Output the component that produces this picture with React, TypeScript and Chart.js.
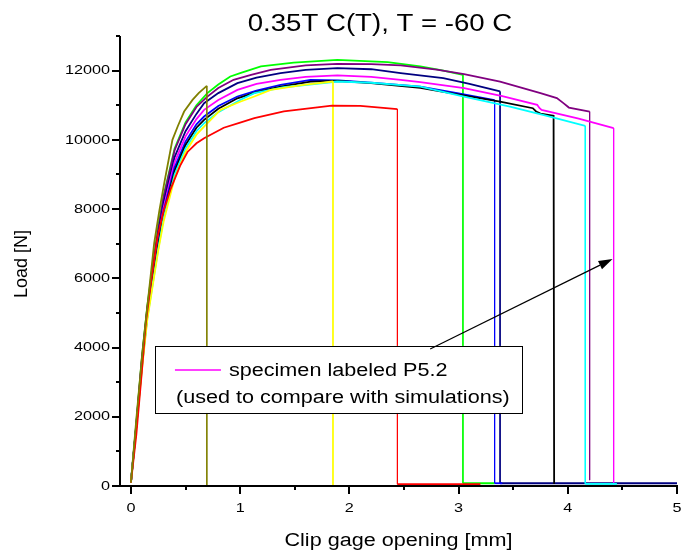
import React, { useEffect, useRef } from 'react';
import { Chart, registerables } from 'chart.js';

Chart.register(...registerables);

const FONT = '"Liberation Sans", Arial, Helvetica, sans-serif';

const TITLE = '0.35T C(T), T = -60 C';
const X_TITLE = 'Clip gage opening [mm]';
const Y_TITLE = 'Load [N]';
const NOTE_LINE1 = 'specimen labeled P5.2';
const NOTE_LINE2 = '(used to compare with simulations)';

const X_MIN = -0.1;
const X_MAX = 5;
const Y_MIN = 0;
const Y_MAX = 13000;
const X_MAJOR = [0, 1, 2, 3, 4, 5];
const X_MINOR = [0.5, 1.5, 2.5, 3.5, 4.5];
const Y_MAJOR = [0, 2000, 4000, 6000, 8000, 10000, 12000];
const Y_MINOR = [1000, 3000, 5000, 7000, 9000, 11000, 13000];

// ---- specimen curves (clip gage opening [mm], load [N]) ----
const oliveX = [0, 0.05, 0.107, 0.213, 0.26, 0.305, 0.38, 0.43, 0.487, 0.564, 0.62, 0.695, 0.695, 5.0];
const oliveY = [100, 1950, 3930, 7014, 7950, 8748, 10000, 10400, 10817, 11155, 11350, 11560, 0, 0];

const redX = [0, 0.05, 0.1, 0.137, 0.183, 0.244, 0.3, 0.366, 0.45, 0.518, 0.6, 0.67, 0.85, 1.0, 1.13, 1.4, 1.84, 2.1, 2.44, 2.44, 3.2];
const redY = [100, 1500, 3300, 4702, 5858, 7200, 7950, 8600, 9250, 9650, 9900, 10048, 10350, 10500, 10626, 10820, 10991, 10980, 10886, 50, 50];

const yellowX = [0, 0.05, 0.1, 0.15, 0.2, 0.25, 0.3, 0.4, 0.5, 0.6, 0.67, 0.82, 1.0, 1.13, 1.28, 1.58, 1.85, 1.85];
const yellowY = [100, 1720, 3350, 4800, 5800, 6800, 7650, 8900, 9650, 10150, 10384, 10866, 11100, 11252, 11444, 11589, 11685, 0];

const cyanX = [0, 0.05, 0.1, 0.15, 0.2, 0.25, 0.3, 0.4, 0.5, 0.6, 0.67, 0.8, 1.0, 1.13, 1.4, 1.89, 2.2, 2.65, 3.05, 3.47, 3.8, 4.16, 4.16, 4.45];
const cyanY = [100, 1730, 3400, 4850, 5850, 6850, 7750, 9000, 9750, 10250, 10480, 10800, 11150, 11349, 11520, 11685, 11650, 11540, 11252, 10962, 10700, 10404, 60, 60];

const blackX = [0, 0.05, 0.1, 0.15, 0.2, 0.25, 0.3, 0.4, 0.5, 0.6, 0.67, 0.8, 0.975, 1.15, 1.37, 1.645, 1.9, 2.2, 2.65, 3.02, 3.38, 3.68, 3.71, 3.75, 3.87, 3.875];
const blackY = [100, 1740, 3450, 4900, 5950, 6950, 7850, 9100, 9850, 10350, 10577, 10900, 11200, 11380, 11540, 11680, 11700, 11640, 11500, 11300, 11106, 10914, 10820, 10760, 10693, 60];

const blueX = [0, 0.05, 0.1, 0.15, 0.2, 0.25, 0.3, 0.4, 0.5, 0.6, 0.67, 0.8, 0.975, 1.15, 1.37, 1.645, 1.9, 2.2, 2.65, 3.0, 3.33, 3.33, 3.4];
const blueY = [100, 1750, 3500, 4950, 6000, 7000, 7950, 9200, 9950, 10450, 10673, 10980, 11252, 11420, 11589, 11734, 11720, 11650, 11540, 11340, 11150, 80, 80];

const magentaX = [0, 0.05, 0.1, 0.15, 0.2, 0.25, 0.3, 0.4, 0.5, 0.6, 0.67, 0.8, 0.975, 1.15, 1.37, 1.6, 1.89, 2.2, 2.47, 2.65, 3.05, 3.4, 3.72, 3.74, 3.76, 4.1, 4.42, 4.42];
const magentaY = [100, 1760, 3550, 5000, 6100, 7150, 8050, 9350, 10100, 10600, 10866, 11150, 11444, 11620, 11734, 11820, 11860, 11820, 11734, 11667, 11494, 11260, 11011, 10920, 10866, 10610, 10338, 60];

const navyX = [0, 0.05, 0.1, 0.15, 0.2, 0.25, 0.3, 0.4, 0.5, 0.6, 0.67, 0.8, 0.975, 1.15, 1.37, 1.6, 1.89, 2.2, 2.47, 2.86, 3.1, 3.38, 3.38, 5.0];
const navyY = [100, 1780, 3600, 5100, 6200, 7300, 8200, 9500, 10250, 10750, 11060, 11350, 11638, 11800, 11927, 12020, 12071, 12040, 11927, 11783, 11620, 11397, 80, 80];

const purpleX = [0, 0.05, 0.1, 0.15, 0.2, 0.25, 0.3, 0.4, 0.5, 0.6, 0.7, 0.8, 0.94, 1.1, 1.28, 1.6, 1.89, 2.2, 2.47, 2.8, 3.05, 3.38, 3.75, 3.9, 3.96, 4.01, 4.2, 4.2];
const purpleY = [100, 1800, 3650, 5150, 6300, 7400, 8350, 9700, 10450, 10950, 11250, 11500, 11734, 11880, 12022, 12150, 12196, 12190, 12150, 12030, 11898, 11684, 11349, 11205, 11060, 10933, 10817, 170];

const greenX = [0, 0.05, 0.1, 0.15, 0.2, 0.25, 0.3, 0.4, 0.5, 0.6, 0.7, 0.8, 0.91, 1.0, 1.19, 1.49, 1.89, 2.35, 2.65, 2.85, 3.04, 3.04, 3.33];
const greenY = [100, 1850, 3700, 5200, 6400, 7500, 8400, 9750, 10500, 11000, 11350, 11600, 11830, 11930, 12120, 12230, 12310, 12245, 12120, 12010, 11880, 80, 80];

// annotation anchor values (data units)
const NOTE_BOX_X = [0.22, 3.58];
const NOTE_BOX_Y = [2110, 4046];
const ARROW_FROM = [2.74, 3960];
const ARROW_TO = [4.41, 6560];

const zip = (xs: number[], ys: number[]) => xs.map((x, i) => ({ x, y: ys[i] }));

const SERIES: [string, number[], number[], string][] = [
  ['olive', oliveX, oliveY, '#808000'],
  ['red', redX, redY, '#ff0000'],
  ['yellow', yellowX, yellowY, '#ffff00'],
  ['cyan', cyanX, cyanY, '#00ffff'],
  ['black', blackX, blackY, '#000000'],
  ['blue', blueX, blueY, '#0000ff'],
  ['P5.2', magentaX, magentaY, '#ff00ff'],
  ['navy', navyX, navyY, '#000080'],
  ['purple', purpleX, purpleY, '#800080'],
  ['green', greenX, greenY, '#00ff00'],
];

// the reference glyphs are drawn ~1.2x wider than plain Arial
const STRETCH = 1.2;

function text(ctx: CanvasRenderingContext2D, s: string, x: number, y: number, size: number, align: CanvasTextAlign, rotate = false) {
  ctx.save();
  ctx.translate(x, y);
  if (rotate) ctx.rotate(-Math.PI / 2);
  if (!rotate) ctx.scale(STRETCH, 1);
  ctx.font = `${size}px ${FONT}`;
  ctx.textAlign = align;
  ctx.textBaseline = 'middle';
  ctx.fillStyle = '#000';
  ctx.fillText(s, 0, 0);
  ctx.restore();
}

const decorPlugin = {
  id: 'decor',
  afterDatasetsDraw(chart: any) {
    const { ctx, chartArea } = chart;
    const xs = chart.scales.x;
    const ys = chart.scales.y;
    ctx.save();

    // axes
    ctx.strokeStyle = '#000';
    ctx.lineWidth = 2;
    ctx.beginPath();
    ctx.moveTo(chartArea.left, chartArea.top);
    ctx.lineTo(chartArea.left, chartArea.bottom);
    ctx.lineTo(chartArea.right + 1, chartArea.bottom);
    ctx.stroke();

    const tick = (px: number, py: number, dx: number, dy: number) => {
      ctx.beginPath();
      ctx.moveTo(px, py);
      ctx.lineTo(px + dx, py + dy);
      ctx.stroke();
    };
    X_MAJOR.forEach((v) => tick(Math.round(xs.getPixelForValue(v)), chartArea.bottom, 0, 8));
    X_MINOR.forEach((v) => tick(Math.round(xs.getPixelForValue(v)), chartArea.bottom, 0, 4));
    Y_MAJOR.forEach((v) => tick(chartArea.left, Math.round(ys.getPixelForValue(v)), -8, 0));
    Y_MINOR.forEach((v) => tick(chartArea.left, Math.round(ys.getPixelForValue(v)), -4, 0));

    // tick labels
    X_MAJOR.forEach((v) => text(ctx, String(v), xs.getPixelForValue(v), chartArea.bottom + 22, 13.5, 'center'));
    Y_MAJOR.forEach((v) => text(ctx, String(v), chartArea.left - 10, ys.getPixelForValue(v), 13.5, 'right'));

    // axis titles
    text(ctx, X_TITLE, (chartArea.left + chartArea.right) / 2, chartArea.bottom + 55, 18, 'center');
    text(ctx, Y_TITLE, 22, (chartArea.top + chartArea.bottom) / 2 + 3, 18, 'center', true);

    // note box
    const bx0 = xs.getPixelForValue(NOTE_BOX_X[0]);
    const bx1 = xs.getPixelForValue(NOTE_BOX_X[1]);
    const by0 = ys.getPixelForValue(NOTE_BOX_Y[1]);
    const by1 = ys.getPixelForValue(NOTE_BOX_Y[0]);
    ctx.fillStyle = '#fff';
    ctx.fillRect(bx0, by0, bx1 - bx0, by1 - by0);
    ctx.strokeStyle = '#000';
    ctx.lineWidth = 1;
    ctx.strokeRect(Math.round(bx0) + 0.5, Math.round(by0) + 0.5, Math.round(bx1 - bx0), Math.round(by1 - by0));

    ctx.strokeStyle = '#ff00ff';
    ctx.lineWidth = 1.5;
    ctx.beginPath();
    ctx.moveTo(bx0 + 20, by0 + 24);
    ctx.lineTo(bx0 + 66, by0 + 24);
    ctx.stroke();

    text(ctx, NOTE_LINE1, bx0 + 74, by0 + 25, 18, 'left');
    text(ctx, NOTE_LINE2, bx0 + 21, by0 + 52, 18, 'left');

    // arrow
    const ax0 = xs.getPixelForValue(ARROW_FROM[0]);
    const ay0 = ys.getPixelForValue(ARROW_FROM[1]);
    const ax1 = xs.getPixelForValue(ARROW_TO[0]);
    const ay1 = ys.getPixelForValue(ARROW_TO[1]);
    const ang = Math.atan2(ay1 - ay0, ax1 - ax0);
    const hl = 14;
    const hw = 4.5;
    ctx.strokeStyle = '#000';
    ctx.lineWidth = 1.2;
    ctx.beginPath();
    ctx.moveTo(ax0, ay0);
    ctx.lineTo(ax1 - hl * Math.cos(ang), ay1 - hl * Math.sin(ang));
    ctx.stroke();
    ctx.fillStyle = '#000';
    ctx.beginPath();
    ctx.moveTo(ax1, ay1);
    ctx.lineTo(ax1 - hl * Math.cos(ang) + hw * Math.sin(ang), ay1 - hl * Math.sin(ang) - hw * Math.cos(ang));
    ctx.lineTo(ax1 - hl * Math.cos(ang) - hw * Math.sin(ang), ay1 - hl * Math.sin(ang) + hw * Math.cos(ang));
    ctx.closePath();
    ctx.fill();

    // title
    text(ctx, TITLE, 380, 25, 23, 'center');
    ctx.restore();
  },
};

export default function App() {
  const ref = useRef<HTMLCanvasElement>(null);
  useEffect(() => {
    if (!ref.current) return;
    const zeroPad = (s: any) => {
      s.paddingLeft = 0;
      s.paddingRight = 0;
      s.paddingTop = 0;
      s.paddingBottom = 0;
    };
    const chart = new Chart(ref.current, {
      type: 'line',
      data: {
        datasets: SERIES.map(([label, xs, ys, color]) => ({
          label,
          data: zip(xs, ys),
          borderColor: color,
          backgroundColor: color,
          borderWidth: 1.8,
          pointRadius: 0,
          tension: 0,
          fill: false,
          segment: {
            borderWidth: (c: any) => (Math.abs(c.p0.x - c.p1.x) < 0.5 ? 1 : 1.8),
          },
        })),
      },
      options: {
        animation: false,
        responsive: false,
        devicePixelRatio: 1,
        layout: { padding: { top: 36, right: 6, left: 0, bottom: 0 } },
        plugins: { legend: { display: false }, tooltip: { enabled: false }, title: { display: false } },
        scales: {
          x: {
            type: 'linear',
            min: X_MIN,
            max: X_MAX,
            afterFit: (s: any) => { s.height = 71; zeroPad(s); },
            grid: { display: false, drawTicks: false },
            border: { display: false },
            ticks: { display: false },
            title: { display: false },
          },
          y: {
            type: 'linear',
            min: Y_MIN,
            max: Y_MAX,
            afterFit: (s: any) => { s.width = 120; zeroPad(s); },
            grid: { display: false, drawTicks: false },
            border: { display: false },
            ticks: { display: false },
            title: { display: false },
          },
        },
      },
      plugins: [decorPlugin],
    });
    return () => chart.destroy();
  }, []);
  return (
    <div style={{ position: 'fixed', left: 0, top: 0, width: 683, height: 557, background: '#fff' }}>
      <canvas ref={ref} width={683} height={557} style={{ display: 'block' }} />
    </div>
  );
}
